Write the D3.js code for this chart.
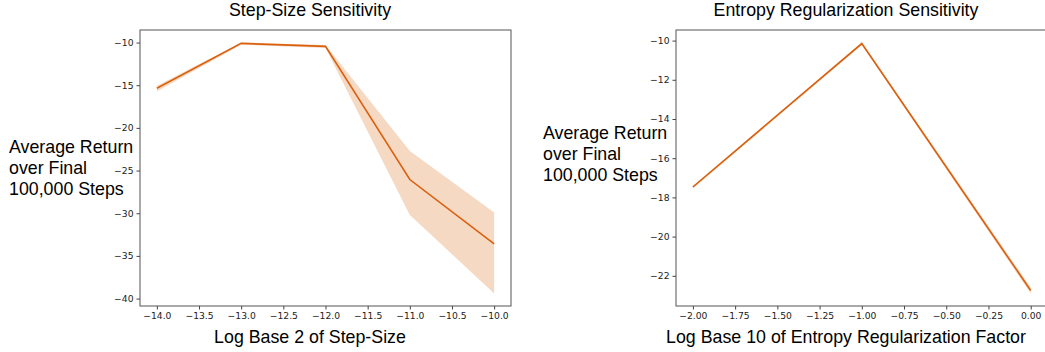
<!DOCTYPE html>
<html>
<head>
<meta charset="utf-8">
<script src="https://cdn.jsdelivr.net/npm/d3@7"></script>
<style>
    body { margin: 0; background: #fff; }
    svg { display: block; }
    .tick text { font-family: "DejaVu Sans", sans-serif; font-size: 9.2px; fill: #222; }
    .big { font-family: "Liberation Sans", Arial, sans-serif; font-size: 17.8px; fill: #000; }
</style>
</head>
<body>
<svg id="svg-main" width="1045" height="352"></svg>
<script>
// step-size panel
var stepX = [-14, -13, -12, -11, -10];
var stepMean = [-15.35, -10.1, -10.45, -26.05, -33.6];
var stepUpper = [-15.05, -10.0, -10.3, -22.7, -29.9];
var stepLower = [-15.75, -10.25, -10.65, -30.2, -39.4];
var stepXTicks = [-14, -13.5, -13, -12.5, -12, -11.5, -11, -10.5, -10];
var stepYTicks = [-10, -15, -20, -25, -30, -35, -40];

// entropy panel
var entX = [-2, -1, 0];
var entMean = [-17.47, -10.15, -22.75];
var entUpper = [-17.4, -10.1, -22.6];
var entLower = [-17.55, -10.22, -22.9];
var entXTicks = [-2, -1.75, -1.5, -1.25, -1, -0.75, -0.5, -0.25, 0];
var entYTicks = [-10, -12, -14, -16, -18, -20, -22];

var yLabelLines = ["Average Return", "over Final", "100,000 Steps"];

var lineColor = "#d9600e";
var bandColor = "#f6d9c3";

var svg = d3.select("svg");

function minusFmt(f) {
    return function (d) { return d3.format(f)(d).replace("-", "\u2212"); };
}

function withMargin(lo, hi) {
    var m = (hi - lo) * 0.05;
    return [lo - m, hi + m];
}

function panel(opts) {
    var g = svg.append("g");
    var xs = opts.x;
    var ys = opts.lower.concat(opts.upper);
    var x = d3.scaleLinear()
        .domain(withMargin(d3.min(xs), d3.max(xs)))
        .range([opts.left, opts.right]);
    var y = d3.scaleLinear()
        .domain(withMargin(d3.min(ys), d3.max(ys)))
        .range([opts.bottom, opts.top]);

    var pts = xs.map(function (d, i) {
        return { x: d, m: opts.mean[i], lo: opts.lower[i], hi: opts.upper[i] };
    });

    g.append("path")
        .datum(pts)
        .attr("fill", bandColor)
        .attr("d", d3.area()
            .x(function (d) { return x(d.x); })
            .y0(function (d) { return y(d.lo); })
            .y1(function (d) { return y(d.hi); }));

    g.append("path")
        .datum(pts)
        .attr("fill", "none")
        .attr("stroke", lineColor)
        .attr("stroke-width", 1.6)
        .attr("d", d3.line()
            .x(function (d) { return x(d.x); })
            .y(function (d) { return y(d.m); }));

    // frame
    g.append("rect")
        .attr("x", opts.left)
        .attr("y", opts.top)
        .attr("width", opts.right - opts.left)
        .attr("height", opts.bottom - opts.top)
        .attr("fill", "none")
        .attr("stroke", "#555")
        .attr("stroke-width", 1);

    var xa = g.append("g")
        .attr("transform", "translate(0," + opts.bottom + ")")
        .call(d3.axisBottom(x).tickValues(opts.xTicks).tickFormat(minusFmt(opts.xFmt))
            .tickSize(3.5).tickPadding(3));
    var ya = g.append("g")
        .attr("transform", "translate(" + opts.left + ",0)")
        .call(d3.axisLeft(y).tickValues(opts.yTicks).tickFormat(minusFmt("d"))
            .tickSize(3.5).tickPadding(3));
    [xa, ya].forEach(function (a) {
        a.select(".domain").remove();
        a.selectAll(".tick line").attr("stroke", "#444");
    });

    g.append("text").attr("class", "big")
        .attr("x", opts.titleX).attr("y", 16)
        .attr("text-anchor", "middle")
        .text(opts.title);

    g.append("text").attr("class", "big")
        .attr("x", opts.titleX).attr("y", 343)
        .attr("text-anchor", "middle")
        .text(opts.xlabel);

    yLabelLines.forEach(function (t, i) {
        g.append("text").attr("class", "big")
            .attr("x", opts.ylabX)
            .attr("y", opts.ylabY + i * 21)
            .text(t);
    });
}

panel({
    x: stepX, mean: stepMean, upper: stepUpper, lower: stepLower,
    xTicks: stepXTicks, yTicks: stepYTicks, xFmt: ".1f",
    left: 140, right: 511, top: 30, bottom: 306,
    title: "Step-Size Sensitivity", xlabel: "Log Base 2 of Step-Size",
    titleX: 310, ylabX: 9, ylabY: 153
});

panel({
    x: entX, mean: entMean, upper: entUpper, lower: entLower,
    xTicks: entXTicks, yTicks: entYTicks, xFmt: ".2f",
    left: 676, right: 1047.6, top: 30, bottom: 306,
    title: "Entropy Regularization Sensitivity", xlabel: "Log Base 10 of Entropy Regularization Factor",
    titleX: 846, ylabX: 543, ylabY: 138.5
});
</script>
</body>
</html>
